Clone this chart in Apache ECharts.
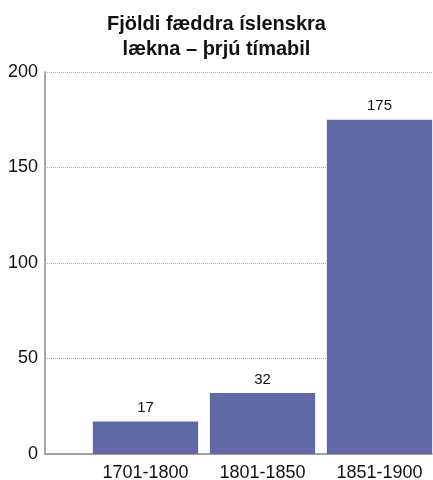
<!DOCTYPE html>
<html><head><meta charset="utf-8">
<script src="https://cdn.jsdelivr.net/npm/echarts@6/dist/echarts.min.js"></script>
<style>html,body{margin:0;padding:0;background:#fff}#c{width:433px;height:480px}</style>
</head><body><div id="c"></div>
<script>
const categories = ['1701-1800', '1801-1850', '1851-1900'];
const values = [17, 32, 175];
const yTicks = [0, 50, 100, 150, 200];
const titleText = 'Fjöldi fæddra íslenskra\nlækna – þrjú tímabil';

const font = '"Liberation Sans", Arial, Helvetica, sans-serif';
const chart = echarts.init(document.getElementById('c'), null, {renderer: 'canvas'});
chart.setOption({
  animation: false,
  title: {
    text: titleText, left: 'center', top: 7,
    textStyle: {fontFamily: font, fontSize: 20, fontWeight: 'bold', color: '#111', lineHeight: 25}
  },
  grid: [
    {left: 45, right: 1, top: 72, bottom: 26, outerBoundsMode: 'none'},
    {left: 87, width: 351, top: 72, bottom: 26, outerBoundsMode: 'none'}
  ],
  xAxis: [
    {gridIndex: 0, type: 'value', min: 0, max: 1, axisLabel: {show: false}, splitLine: {show: false},
     axisTick: {show: false}, axisLine: {show: true, lineStyle: {color: '#8a8a8a', width: 1.5}}},
    {gridIndex: 1, type: 'category', data: categories, axisLine: {show: false}, axisTick: {show: false},
     axisLabel: {fontFamily: font, fontSize: 18, color: '#111', margin: 10}}
  ],
  yAxis: [
    {gridIndex: 0, type: 'value', min: yTicks[0], max: yTicks[yTicks.length - 1], interval: 50,
     axisLine: {show: true, lineStyle: {color: '#8a8a8a', width: 1.5}}, axisTick: {show: false},
     axisLabel: {fontFamily: font, fontSize: 18, color: '#111', margin: 7},
     splitLine: {show: true, lineStyle: {type: [1, 1], color: '#aaa', width: 1}}},
    {gridIndex: 1, type: 'value', min: 0, max: 200, show: false}
  ],
  series: [{
    type: 'bar', xAxisIndex: 1, yAxisIndex: 1, data: values, barCategoryGap: '10%',
    itemStyle: {color: '#6068a6'},
    label: {show: true, position: 'top', distance: 6, fontFamily: font, fontSize: 15, color: '#111'}
  }]
});
</script></body></html>
